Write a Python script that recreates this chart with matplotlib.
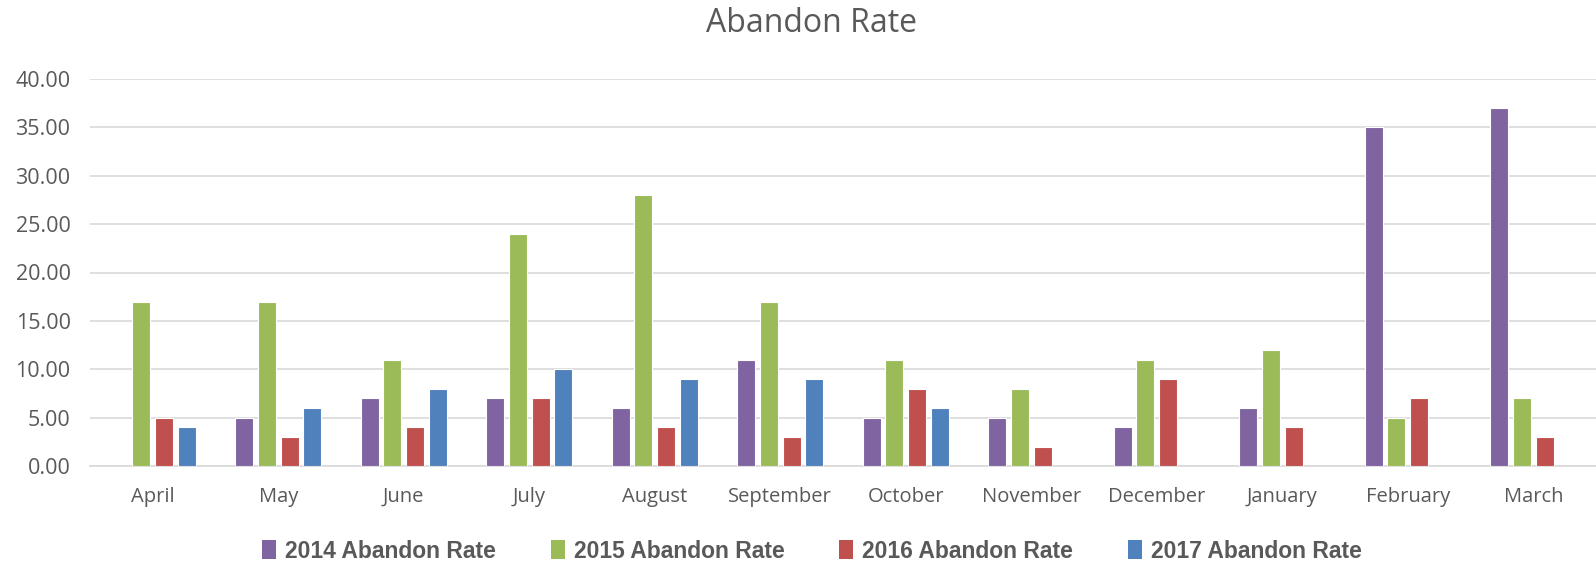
import numpy as np
import matplotlib
matplotlib.use('Agg')
import matplotlib.pyplot as plt
from matplotlib.patches import Patch

# chart data
months = ['April', 'May', 'June', 'July', 'August', 'September',
          'October', 'November', 'December', 'January', 'February', 'March']
series_names = ['2014 Abandon Rate', '2015 Abandon Rate',
                '2016 Abandon Rate', '2017 Abandon Rate']
rate_2014 = [np.nan, 5, 7, 7, 6, 11, 5, 5, 4, 6, 35, 37]
rate_2015 = [17, 17, 11, 24, 28, 17, 11, 8, 11, 12, 5, 7]
rate_2016 = [5, 3, 4, 7, 4, 3, 8, 2, 9, 4, 7, 3]
rate_2017 = [4, 6, 8, 10, 9, 9, 6, np.nan, np.nan, np.nan, np.nan, np.nan]
y_ticks = [0, 5, 10, 15, 20, 25, 30, 35, 40]

colors = ['#8064A2', '#9BBB59', '#C0504D', '#4F81BD']
txt = '#595959'

plt.rcParams['font.family'] = ['Open Sans', 'DejaVu Sans']

fig = plt.figure(figsize=(15.96, 5.64), dpi=100)
ax = fig.add_axes([90 / 1596, 1 - 466 / 564, 1 - 90 / 1596, (466 - 79) / 564])

x = np.arange(len(months))
width = 0.143
step = 0.18
for i, (vals, c) in enumerate(zip([rate_2014, rate_2015, rate_2016, rate_2017], colors)):
    ax.bar(x + (i - 1.5) * step, vals, width, color=c, edgecolor='white',
           linewidth=0.8, zorder=3)

ax.set_xlim(-0.5, len(months) - 0.5)
ax.set_ylim(0, 40)
ax.set_yticks(y_ticks)
ax.set_yticklabels(['%.2f' % v for v in y_ticks])
ax.set_xticks(x)
ax.set_xticklabels(months)
ax.tick_params(axis='both', length=0, colors=txt)
ax.tick_params(axis='x', pad=15, labelsize=14.5)
ax.tick_params(axis='y', pad=14, labelsize=15.5)
ax.grid(axis='y', color='#D9D9D9', linewidth=1.2, zorder=0)
for s in ['top', 'right', 'left']:
    ax.spines[s].set_visible(False)
ax.spines['bottom'].set_color('#D9D9D9')
ax.spines['bottom'].set_linewidth(1.2)

fig.text(812 / 1596, 1 - 24 / 564, 'Abandon Rate', ha='center', va='center',
         fontsize=23, color=txt)

handles = [Patch(facecolor=c, edgecolor='none') for c in colors]
leg = fig.legend(handles, series_names, loc='center', bbox_to_anchor=(812 / 1596, 1 - 551 / 564),
                 ncol=4, frameon=False, handlelength=0.6, handleheight=0.9,
                 handletextpad=0.4, columnspacing=2.4,
                 prop={'family': ['Liberation Sans', 'DejaVu Sans'], 'weight': 'bold', 'size': 16.5})
for t in leg.get_texts():
    t.set_color(txt)

fig.savefig('out.png', dpi=100)
